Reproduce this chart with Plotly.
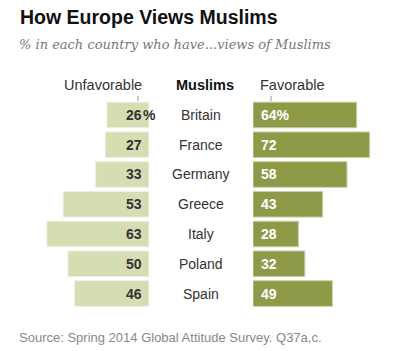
import plotly.graph_objects as go

countries = ["Britain", "France", "Germany", "Greece", "Italy", "Poland", "Spain"]
unfavorable = [26, 27, 33, 53, 63, 50, 46]
favorable = [64, 72, 58, 43, 28, 32, 49]

W, H = 397, 351
LEFT_C = "#d6ddb3"
RIGHT_C = "#8e9a48"
TXT = "#333333"
FONT = "Liberation Sans"

def px(x):
    return x / W

def py(y):
    return 1 - y / H

ypos = list(range(len(countries)))
RMAX = 75

fig = go.Figure()
fig.add_trace(go.Bar(y=ypos, x=unfavorable, orientation="h", xaxis="x", yaxis="y",
                     marker=dict(color=LEFT_C, line=dict(color="#eef0e0", width=1)),
                     width=0.86, hoverinfo="skip"))
fig.add_trace(go.Bar(y=ypos, x=favorable, orientation="h", xaxis="x2", yaxis="y2",
                     marker=dict(color=RIGHT_C, line=dict(color="#c9cfa6", width=1)),
                     width=0.86, hoverinfo="skip"))

ann = []
for i, (c, u, f) in enumerate(zip(countries, unfavorable, favorable)):
    ann.append(dict(x=0, y=i, xref="x", yref="y", text=f"<b>{u}</b>", showarrow=False,
                    xanchor="right", xshift=-5, font=dict(family=FONT, size=14, color=TXT)))
    if i == 0:
        ann.append(dict(x=0, y=i, xref="x", yref="y", text="<b>%</b>", showarrow=False,
                        xanchor="left", xshift=-8, font=dict(family=FONT, size=14, color=TXT)))
    ann.append(dict(x=0, y=i, xref="x2", yref="y2", text=f"<b>{f}{'%' if i == 0 else ''}</b>",
                    showarrow=False, xanchor="left", xshift=6,
                    font=dict(family=FONT, size=14, color="white")))
    ann.append(dict(x=px(201), y=i, xref="paper", yref="y", text=c, showarrow=False,
                    xanchor="center", font=dict(family=FONT, size=14, color=TXT)))

ann += [
    dict(x=px(18), y=py(17), xref="paper", yref="paper", text="<b>How Europe Views Muslims</b>",
         showarrow=False, xanchor="left", yanchor="middle",
         font=dict(family=FONT, size=19.5, color="#111111")),
    dict(x=px(17), y=py(45), xref="paper", yref="paper",
         text="<i>% in each country who have...views of Muslims</i>",
         showarrow=False, xanchor="left", yanchor="middle",
         font=dict(family="DejaVu Serif", size=13, color="#777777")),
    dict(x=px(103), y=py(85), xref="paper", yref="paper", text="Unfavorable",
         showarrow=False, xanchor="center", yanchor="middle",
         font=dict(family=FONT, size=14.5, color=TXT)),
    dict(x=px(205), y=py(85), xref="paper", yref="paper", text="<b>Muslims</b>",
         showarrow=False, xanchor="center", yanchor="middle",
         font=dict(family=FONT, size=14.5, color="#111111")),
    dict(x=px(292), y=py(85), xref="paper", yref="paper", text="Favorable",
         showarrow=False, xanchor="center", yanchor="middle",
         font=dict(family=FONT, size=14.5, color=TXT)),
    dict(x=px(17), y=py(337), xref="paper", yref="paper",
         text="Source: Spring 2014 Global Attitude Survey. Q37a,c.",
         showarrow=False, xanchor="left", yanchor="middle",
         font=dict(family=FONT, size=13, color="#888888")),
]

shapes = [
    dict(type="line", xref="paper", yref="paper", x0=px(138), x1=px(138), y0=py(96), y1=py(101),
         line=dict(color="#999999", width=1)),
    dict(type="line", xref="paper", yref="paper", x0=px(271), x1=px(271), y0=py(96), y1=py(101),
         line=dict(color="#999999", width=1)),
]

scale = 1.62
ydom = [py(308.4), py(100.1)]
fig.update_layout(
    width=W, height=H, margin=dict(l=0, r=0, t=0, b=0),
    paper_bgcolor="white", plot_bgcolor="white", showlegend=False,
    xaxis=dict(domain=[px(149 - RMAX * scale), px(149)], range=[RMAX, 0], visible=False, fixedrange=True),
    xaxis2=dict(domain=[px(253), px(253 + RMAX * scale)], range=[0, RMAX], visible=False, fixedrange=True),
    yaxis=dict(domain=ydom, range=[6.5, -0.5], visible=False, anchor="x"),
    yaxis2=dict(domain=ydom, range=[6.5, -0.5], visible=False, anchor="x2"),
    annotations=ann, shapes=shapes,
)
fig.write_html("out.html")
